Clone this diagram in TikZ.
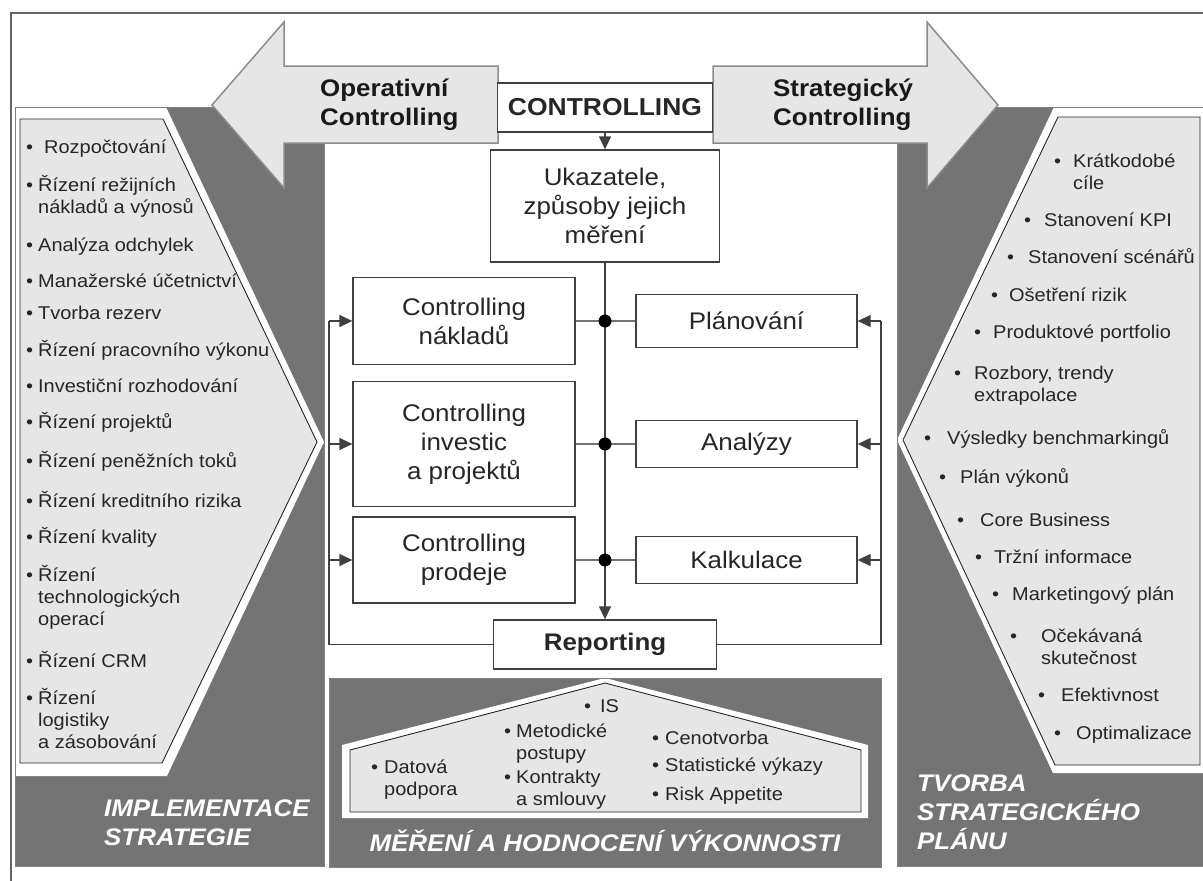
\documentclass[tikz,border=0pt]{standalone}
\usepackage{fontspec}
\setmainfont{Liberation Sans}[FakeStretch=1.08]
\usetikzlibrary{arrows.meta}
\definecolor{dk}{HTML}{747474}
\definecolor{lt}{HTML}{E6E6E6}
\newcommand\mlines[1]{\vtop{\halign{##\hfil\cr#1\crcr}}}
\newcommand\bul[2]{\makebox[#1][l]{•}\mlines{#2}}
\tikzset{
 frameln/.style={draw=black!60, line width=1.2pt},
 lbox/.style={fill=lt, draw=black!85, line width=0.9pt},
 bigarrow/.style={fill=lt, draw=black!45, line width=1.5pt},
 li/.style={anchor=base west, inner sep=0pt, font=\fontsize{18.5}{22}\selectfont, text=black!85},
 lbl/.style={anchor=base west, inner sep=0pt, font=\fontsize{24}{29}\selectfont\bfseries\itshape, text=white},
 atxt/.style={anchor=base west, inner sep=0pt, font=\fontsize{24}{29}\selectfont\bfseries, text=black!90},
 cbox/.style={draw=black!75, line width=1.3pt, fill=white, align=center, inner sep=0pt, font=\fontsize{24}{29}\selectfont, text=black!85},
 conn/.style={draw=black!75, line width=1.3pt},
 hconn/.style={draw=black!55, line width=1.3pt},
 tip/.style={-{Triangle[length=13pt,width=12pt]}},
 dot/.style={circle, fill=black, inner sep=0pt, minimum size=13pt},
}
\begin{document}
\begin{tikzpicture}[x=1pt,y=-1pt]
\useasboundingbox (0,0) rectangle (1203,881);
% frame
\draw[frameln] (10,13) -- (1203,13);
\draw[frameln] (11,13) -- (11,881);
% left panel
\fill[dk] (15,107) rectangle (324,866);
\fill[white] (15,107) -- (166,107) -- (324,442) -- (167,776) -- (15,776) -- cycle;
\draw[lbox] (20,119) -- (163,119) -- (317,442) -- (162,763) -- (20,763) -- cycle;
\draw[draw=black!50, line width=0.8pt] (15,107) rectangle (324,866);
% right panel
\fill[dk] (897,107) rectangle (1203,866);
\fill[white] (1054,107) -- (1203,107) -- (1203,773) -- (1053,773) -- (897,440) -- cycle;
\draw[lbox] (1058,117) -- (1200,117) -- (1200,765) -- (1055,765) -- (903,440) -- cycle;
\draw[draw=black!50, line width=0.8pt] (897,107) rectangle (1203,866);
% bottom panel
\fill[dk] (329,678) rectangle (881,867);
\fill[white] (605,678) -- (342,745) -- (342,818) -- (868,818) -- (868,745) -- cycle;
\draw[lbox] (605,683) -- (350,750) -- (350,812) -- (861,812) -- (861,750) -- cycle;
\draw[draw=black!50, line width=0.8pt] (329,678) rectangle (881,867);
% big arrows
\draw[bigarrow] (212,105) -- (284,22) -- (284,66) -- (498,66) -- (498,143) -- (284,143) -- (284,188) -- cycle;
\draw[bigarrow] (998,105) -- (927,22) -- (927,66) -- (713,66) -- (713,143) -- (927,143) -- (927,188) -- cycle;
\node[atxt] (op) at (320,96.5) {\mlines{Operativní\cr Controlling}};
\node[atxt] (st) at (773,96.5) {\mlines{Strategický\cr Controlling}};
% left list
\node[li] (l1) at (26,153.5) {\bul{18pt}{Rozpočtování}};
\node[li] (l2) at (26,191.5) {\bul{12pt}{Řízení režijních\cr nákladů a výnosů}};
\node[li] (l3) at (26,251.5) {\bul{12pt}{Analýza odchylek}};
\node[li] (l4) at (26,287.5) {\bul{12pt}{Manažerské účetnictví}};
\node[li] (l5) at (26,319.5) {\bul{12pt}{Tvorba rezerv}};
\node[li] (l6) at (26,356.5) {\bul{12pt}{Řízení pracovního výkonu}};
\node[li] (l7) at (26,392.5) {\bul{12pt}{Investiční rozhodování}};
\node[li] (l8) at (26,428.5) {\bul{12pt}{Řízení projektů}};
\node[li] (l9) at (26,467.5) {\bul{12pt}{Řízení peněžních toků}};
\node[li] (l10) at (26,507.5) {\bul{12pt}{Řízení kreditního rizika}};
\node[li] (l11) at (26,543.5) {\bul{12pt}{Řízení kvality}};
\node[li] (l12) at (26,581.5) {\bul{12pt}{Řízení\cr technologických\cr operací}};
\node[li] (l13) at (26,667.5) {\bul{12pt}{Řízení CRM}};
\node[li] (l14) at (26,704.5) {\bul{12pt}{Řízení\cr logistiky\cr a zásobování}};
% right list
\node[li] (r1) at (1054,167.5) {\bul{19pt}{Krátkodobé\cr cíle}};
\node[li] (r2) at (1024,226.5) {\bul{20pt}{Stanovení KPI}};
\node[li] (r3) at (1007,263.5) {\bul{21pt}{Stanovení scénářů}};
\node[li] (r4) at (991,301.5) {\bul{18pt}{Ošetření rizik}};
\node[li] (r5) at (974,338.5) {\bul{19pt}{Produktové portfolio}};
\node[li] (r6) at (954,379.5) {\bul{20pt}{Rozbory, trendy\cr extrapolace}};
\node[li] (r7) at (924,444.5) {\bul{23pt}{Výsledky benchmarkingů}};
\node[li] (r8) at (939,483.5) {\bul{21pt}{Plán výkonů}};
\node[li] (r9) at (957,526.5) {\bul{23pt}{Core Business}};
\node[li] (r10) at (975,563.5) {\bul{19pt}{Tržní informace}};
\node[li] (r11) at (992,600.5) {\bul{20pt}{Marketingový plán}};
\node[li] (r12) at (1010,642.5) {\bul{31pt}{Očekávaná\cr skutečnost}};
\node[li] (r13) at (1038,701.5) {\bul{23pt}{Efektivnost}};
\node[li] (r14) at (1054,739.5) {\bul{22pt}{Optimalizace}};
% bottom list
\node[li] (b1) at (584,712.5) {\bul{16pt}{IS}};
\node[li] (b2) at (504,737.5) {\bul{12pt}{Metodické\cr postupy}};
\node[li] (b3) at (504,783.5) {\bul{12pt}{Kontrakty\cr a smlouvy}};
\node[li] (b4) at (371,773.5) {\bul{13pt}{Datová\cr podpora}};
\node[li] (b5) at (652,744.5) {\bul{13pt}{Cenotvorba}};
\node[li] (b6) at (652,771.5) {\bul{13pt}{Statistické výkazy}};
\node[li] (b7) at (652,800.5) {\bul{13pt}{Risk Appetite}};
% panel labels
\node[lbl] (t1) at (104,816.5) {\mlines{IMPLEMENTACE\cr STRATEGIE}};
\node[lbl] (t2) at (917,791.5) {\mlines{TVORBA\cr STRATEGICKÉHO\cr PLÁNU}};
\node[lbl, anchor=base] (t3) at (605,851.5) {MĚŘENÍ A HODNOCENÍ VÝKONNOSTI};
% central boxes
\node[cbox, font=\fontsize{24.5}{29}\selectfont\bfseries, minimum width=215pt, minimum height=49pt] (ctrl) at (605,107.5) {CONTROLLING};
\node[cbox, minimum width=229pt, minimum height=112pt] (uk) at (605,206) {Ukazatele,\\způsoby jejich\\měření};
\node[cbox, minimum width=222pt, minimum height=87pt] (cn) at (464,321) {Controlling\\nákladů};
\node[cbox, minimum width=222pt, minimum height=125pt] (ci) at (464,444) {Controlling\\investic\\a projektů};
\node[cbox, minimum width=222pt, minimum height=86pt] (cp) at (464,560) {Controlling\\prodeje};
\node[cbox, minimum width=221pt, minimum height=53pt] (pl) at (746.5,321) {Plánování};
\node[cbox, minimum width=221pt, minimum height=47pt] (an) at (746.5,444) {Analýzy};
\node[cbox, minimum width=221pt, minimum height=47pt] (ka) at (746.5,560) {Kalkulace};
\node[cbox, font=\fontsize{24}{29}\selectfont\bfseries, minimum width=223pt, minimum height=49pt] (rep) at (605,644.5) {Reporting};
% connectors
\draw[conn,tip] (ctrl.south) -- (uk.north);
\draw[hconn] (cn.east) -- (pl.west);
\draw[hconn] (ci.east) -- (an.west);
\draw[hconn] (cp.east) -- (ka.west);
\draw[conn,tip] (uk.south) -- (rep.north);
\node[dot] (d1) at (605,321) {};
\node[dot] (d2) at (605,444) {};
\node[dot] (d3) at (605,560) {};
% feedback left
\coordinate (fl0) at (329,644.5);
\coordinate (fl1) at (329,321);
\coordinate (fl2) at (329,444);
\coordinate (fl3) at (329,560);
\draw[conn] (rep.west) -- (fl0) -- (fl1);
\draw[conn,tip] (fl1) -- (cn.west);
\draw[conn,tip] (fl2) -- (ci.west);
\draw[conn,tip] (fl3) -- (cp.west);
% feedback right
\coordinate (fr0) at (881,644.5);
\coordinate (fr1) at (881,321);
\coordinate (fr2) at (881,444);
\coordinate (fr3) at (881,560);
\draw[conn] (rep.east) -- (fr0) -- (fr1);
\draw[conn,tip] (fr1) -- (pl.east);
\draw[conn,tip] (fr2) -- (an.east);
\draw[conn,tip] (fr3) -- (ka.east);
\end{tikzpicture}
\end{document}
